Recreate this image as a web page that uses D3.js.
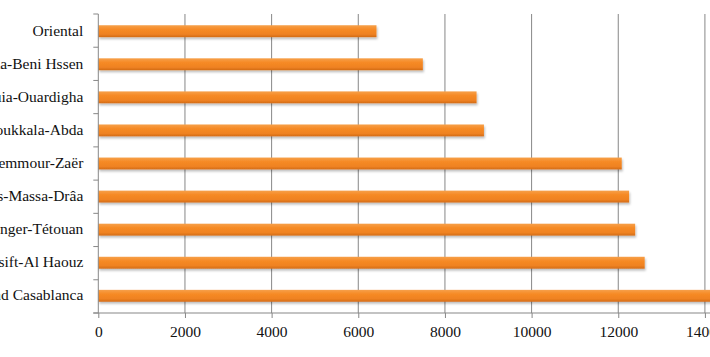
<!DOCTYPE html>
<html>
<head>
<meta charset="utf-8">
<script src="https://cdn.jsdelivr.net/npm/d3@7"></script>
<style>
html,body{margin:0;padding:0;background:#fff;overflow:hidden;}
svg{display:block;}
</style>
</head>
<body>
<svg id="chart" width="710" height="357"></svg>
<script>
const categories = ["Oriental","Gharb-Chrarda-Beni Hssen","Chaouia-Ouardigha","Doukkala-Abda","Rabat-Salé-Zemmour-Zaër","Souss-Massa-Drâa","Tanger-Tétouan","Marrakech-Tensift-Al Haouz","Grand Casablanca"];
const values = [6420,7490,8730,8900,12080,12250,12390,12610,14600];
const xTicks = [0,2000,4000,6000,8000,10000,12000,14000];

(function(){
const FONT = "Liberation Serif";
const svg = d3.select("#chart");
const x0 = 98.3, yTop = 14, yBottom = 313;
const x = d3.scaleLinear().domain([0,16000]).range([x0, x0 + 16000*0.04333]);
const y = d3.scaleBand().domain(categories).range([yTop,yBottom]).paddingInner(0.64).paddingOuter(0.34);

const defs = svg.append("defs");
const g = defs.append("linearGradient").attr("id","barGrad").attr("x1",0).attr("y1",0).attr("x2",0).attr("y2",1);
g.append("stop").attr("offset","0%").attr("stop-color","#f6a04a");
g.append("stop").attr("offset","35%").attr("stop-color","#f68a25");
g.append("stop").attr("offset","75%").attr("stop-color","#ef8222");
g.append("stop").attr("offset","100%").attr("stop-color","#d26b16");
const f = defs.append("filter").attr("id","shadow").attr("x","-5%").attr("y","-50%").attr("width","110%").attr("height","200%");
f.append("feDropShadow").attr("dx",1).attr("dy",2).attr("stdDeviation",1.2).attr("flood-color","#000").attr("flood-opacity",0.25);

// gridlines
svg.append("g").selectAll("line").data(xTicks.slice(1)).join("line")
  .attr("x1",d=>x(d)).attr("x2",d=>x(d)).attr("y1",yTop).attr("y2",yBottom)
  .attr("stroke","#878787").attr("stroke-width",1);

// bars
svg.append("g").selectAll("rect").data(categories).join("rect")
  .attr("x",x(0)).attr("y",d=>y(d))
  .attr("width",(d,i)=>x(values[i])-x(0)).attr("height",y.bandwidth())
  .attr("fill","url(#barGrad)").attr("filter","url(#shadow)");

// y axis
const yAxis = svg.append("g").attr("transform",`translate(${x0},0)`);
yAxis.append("line").attr("x1",0).attr("x2",0).attr("y1",yTop).attr("y2",yBottom).attr("stroke","#878787");
const tickYs = d3.range(categories.length+1).map(i=>yTop + i*(yBottom-yTop)/categories.length);
yAxis.selectAll("line.t").data(tickYs).join("line").attr("class","t")
  .attr("x1",-5).attr("x2",0).attr("y1",d=>d).attr("y2",d=>d).attr("stroke","#878787");
yAxis.selectAll("text").data(categories).join("text")
  .attr("x",-15).attr("y",d=>y(d)+y.bandwidth()/2+1)
  .attr("text-anchor","end").attr("dominant-baseline","middle")
  .attr("font-family",FONT).attr("font-size",15.5).attr("fill","#111")
  .text(d=>d);

// x axis
const xAxis = svg.append("g").attr("transform",`translate(0,${yBottom})`);
xAxis.call(d3.axisBottom(x).tickValues(xTicks).tickFormat(d3.format("d")).tickSize(5).tickSizeOuter(0).tickPadding(8));
xAxis.attr("font-family",FONT).attr("font-size",15.5);
xAxis.select(".domain").attr("stroke","#878787").attr("d",`M${x0-5},0H${x(16000)}`);
xAxis.selectAll(".tick line").attr("stroke","#878787");
xAxis.selectAll(".tick text").attr("fill","#111").attr("font-family",FONT).attr("font-size",15.5);
})();
</script>
</body>
</html>
